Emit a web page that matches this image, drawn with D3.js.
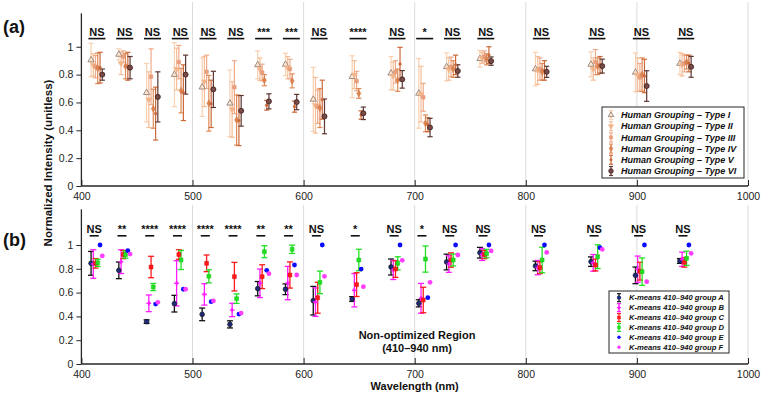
<!DOCTYPE html>
<html><head><meta charset="utf-8">
<script src="https://cdn.jsdelivr.net/npm/d3@7"></script>
<style>
body{margin:0;background:#fff}
svg{display:block}
text{font-family:"Liberation Sans",Arial,Helvetica,sans-serif}
</style>
</head><body>
<svg id="c" width="764" height="396"></svg>
<script>
// ---------- DATA ----------
const wavelengths = [410,435,460,485,510,535,560,585,610,645,680,705,730,760,810,860,900,940];
const xTicks = [400,500,600,700,800,900,1000];
const yTicks = [0,0.2,0.4,0.6,0.8,1];
const sigTop = ["NS","NS","NS","NS","NS","NS","***","***","NS","****","NS","*","NS","NS","NS","NS","NS","NS"];
const sigBottom = ["NS","**","****","****","****","****","**","**","NS","*","NS","*","NS","NS","NS","NS","NS","NS"];

const typeNames = ["Human Grouping \u2013 Type I","Human Grouping \u2013 Type II","Human Grouping \u2013 Type III",
  "Human Grouping \u2013 Type IV","Human Grouping \u2013 Type V","Human Grouping \u2013 Type VI"];
const typeI_mean  = [0.905,0.945,0.67,0.80,0.71,0.594,0.87,0.873,0.622,0.785,0.81,0.665,0.856,0.914,0.84,0.873,0.816,0.88];
const typeI_err   = [0.12,0.04,0.21,0.23,0.21,0.24,0.10,0.08,0.23,0.15,0.12,0.25,0.10,0.06,0.12,0.09,0.14,0.08];
const typeII_mean = [0.87,0.88,0.62,0.84,0.75,0.55,0.84,0.85,0.58,0.80,0.79,0.66,0.84,0.92,0.83,0.84,0.80,0.87];
const typeII_err  = [0.08,0.08,0.20,0.15,0.18,0.20,0.08,0.08,0.20,0.10,0.10,0.20,0.08,0.04,0.10,0.08,0.12,0.08];
const typeIII_mean= [0.857,0.93,0.785,0.89,0.82,0.71,0.815,0.84,0.57,0.754,0.82,0.637,0.856,0.93,0.84,0.89,0.78,0.88];
const typeIII_err = [0.08,0.04,0.20,0.12,0.12,0.19,0.06,0.07,0.12,0.07,0.08,0.10,0.07,0.04,0.08,0.09,0.10,0.06];
const typeIV_mean = [0.845,0.86,0.555,0.685,0.594,0.474,0.76,0.755,0.56,0.665,0.76,0.45,0.84,0.91,0.82,0.86,0.80,0.89];
const typeIV_err  = [0.11,0.09,0.14,0.16,0.20,0.18,0.04,0.05,0.14,0.035,0.08,0.06,0.06,0.04,0.06,0.06,0.12,0.05];
const typeV_mean  = [0.85,0.86,0.52,0.67,0.59,0.47,0.58,0.57,0.62,0.51,0.876,0.44,0.87,0.94,0.83,0.87,0.79,0.88];
const typeV_err   = [0.11,0.10,0.19,0.20,0.17,0.18,0.035,0.04,0.14,0.03,0.12,0.05,0.07,0.06,0.07,0.06,0.12,0.06];
const typeVI_mean = [0.80,0.85,0.64,0.80,0.694,0.54,0.608,0.603,0.50,0.522,0.766,0.42,0.826,0.897,0.82,0.861,0.718,0.856];
const typeVI_err  = [0.04,0.08,0.18,0.14,0.13,0.11,0.054,0.055,0.125,0.045,0.063,0.066,0.045,0.03,0.04,0.05,0.11,0.075];

const groupNames = ["K-means 410\u2013940 group A","K-means 410\u2013940 group B","K-means 410\u2013940 group C",
  "K-means 410\u2013940 group D","K-means 410\u2013940 group E","K-means 410\u2013940 group F"];
const groupA_mean = [0.846,0.787,0.356,0.507,0.417,0.333,0.633,0.628,0.532,0.546,0.815,0.51,0.857,0.935,0.824,0.86,0.745,0.866];
const groupA_err  = [0.10,0.07,0.015,0.07,0.053,0.03,0.06,0.045,0.12,0.02,0.067,0.03,0.066,0.045,0.04,0.04,0.07,0.02];
const groupB_mean = [0.84,0.86,0.51,0.678,0.585,0.454,0.678,0.68,0.52,0.62,0.79,0.552,0.84,0.92,0.81,0.85,0.797,0.88];
const groupB_err  = [0.12,0.10,0.07,0.19,0.09,0.056,0.12,0.14,0.12,0.14,0.08,0.125,0.07,0.05,0.06,0.07,0.11,0.06];
const groupC_mean = [0.846,0.92,0.815,0.92,0.846,0.734,0.734,0.748,0.557,0.667,0.798,0.538,0.874,0.92,0.81,0.832,0.78,0.854];
const groupC_err  = [0.04,0.035,0.09,0.04,0.07,0.12,0.10,0.11,0.13,0.10,0.07,0.107,0.06,0.035,0.05,0.05,0.075,0.04];
const groupD_mean = [0.85,0.92,0.647,0.874,0.737,0.549,0.944,0.964,0.686,0.874,0.846,0.882,0.874,0.928,0.874,0.902,0.776,0.888];
const groupD_err  = [0.03,0.03,0.03,0.08,0.055,0.04,0.05,0.035,0.095,0.09,0.055,0.11,0.05,0.035,0.107,0.10,0.115,0.06];
const groupE_mean = [1.0,0.952,0.504,0.628,0.524,0.42,0.787,0.832,1.0,0.798,1.0,0.557,1.0,1.0,1.0,0.977,1.0,1.0];
const groupF_mean = [0.908,0.924,0.518,0.628,0.53,0.428,0.759,0.748,0.737,0.65,0.871,0.686,0.916,0.95,0.938,0.964,0.692,0.93];

// ---------- SETUP ----------
const svg = d3.select("#c");
const FONT = '"Liberation Sans",Arial,Helvetica,sans-serif';
const axisColor = "#262626";
const x = d3.scaleLinear().domain([400,1000]).range([81.4,748]);
const yTop = d3.scaleLinear().domain([0,1.3]).range([186,5]);
const yBot = d3.scaleLinear().domain([0,1.3]).range([364,209.3]);
const offsets = [-1.3,0.7,2.7,4.7,6.8,8.8];

function panel(y, gridTop, axisTopVal){
  const g = svg.append("g");
  g.selectAll("line.grid").data(xTicks.slice(1)).join("line")
    .attr("x1",d=>x(d)).attr("x2",d=>x(d))
    .attr("y1",gridTop).attr("y2",y(0))
    .attr("stroke","#dcdcdc").attr("stroke-width",1);
  const ya = g.append("g").attr("transform",`translate(${x(400)},0)`)
    .call(d3.axisLeft(y).tickValues(yTicks).tickFormat(d3.format("~g")).tickSizeOuter(0).tickSizeInner(5).tickPadding(3));
  ya.select(".domain").remove();
  ya.selectAll("line").attr("stroke",axisColor).attr("stroke-width",1);
  ya.selectAll("text").attr("font-family",FONT).attr("font-size",10.5).attr("fill","#222");
  g.append("line").attr("x1",x(400)).attr("x2",x(400)).attr("y1",y(0)).attr("y2",y(axisTopVal))
    .attr("stroke",axisColor).attr("stroke-width",1.3);
  const xa = g.append("g").attr("transform",`translate(0,${y(0)})`)
    .call(d3.axisBottom(x).tickValues(xTicks).tickFormat(d3.format("d")).tickSizeOuter(0).tickSizeInner(-6).tickPadding(7));
  xa.select(".domain").remove();
  xa.selectAll("line").attr("stroke",axisColor).attr("stroke-width",1);
  xa.selectAll("text").attr("font-family",FONT).attr("font-size",10.5).attr("fill","#222");
  g.append("line").attr("x1",x(400)).attr("x2",x(1000)).attr("y1",y(0)).attr("y2",y(0))
    .attr("stroke",axisColor).attr("stroke-width",1.3);
  return g;
}

function errSeries(g, y, means, errs, off, color, lw, cap){
  const s = g.append("g");
  means.forEach((m,i)=>{
    const cx = x(wavelengths[i]+off);
    const e = errs[i];
    s.append("line").attr("x1",cx).attr("x2",cx).attr("y1",y(m-e)).attr("y2",y(m+e))
      .attr("stroke",color).attr("stroke-width",lw);
    [m-e,m+e].forEach(v=>s.append("line").attr("x1",cx-cap).attr("x2",cx+cap)
      .attr("y1",y(v)).attr("y2",y(v)).attr("stroke",color).attr("stroke-width",lw));
  });
  return s;
}
function markers(g, y, means, off, sym, size, fill, stroke, sw){
  g.append("g").selectAll("path").data(means).join("path")
    .attr("transform",(d,i)=>`translate(${x(wavelengths[i]+off)},${y(d)})`)
    .attr("d",d3.symbol(sym,size)())
    .attr("fill",fill).attr("stroke",stroke).attr("stroke-width",sw);
}
function sigLabels(g, y, labels, off, textY, lineY, halfLen){
  labels.forEach((t,i)=>{
    const cx = x(wavelengths[i]+off);
    g.append("text").attr("x",cx).attr("y",textY).attr("text-anchor","middle")
      .attr("font-family",FONT).attr("font-weight","bold").attr("font-size",11)
      .attr("fill","#111").text(t);
    g.append("line").attr("x1",cx-halfLen).attr("x2",cx+halfLen).attr("y1",lineY).attr("y2",lineY)
      .attr("stroke","#111").attr("stroke-width",1.6);
  });
}

// ---------- TOP PANEL ----------
const gT = panel(yTop, 2, 1.24);
const topSeries = [
  {m:typeI_mean,e:typeI_err,bar:"#f9d0b0",sym:d3.symbolTriangle,size:17,fill:"#fbe6d4",stroke:"#8c7467",sw:0.8},
  {m:typeII_mean,e:typeII_err,bar:"#f6be98",sym:d3.symbolTriangle,size:15,fill:"#f3b48a",stroke:"#f3b48a",sw:0.5,flip:true},
  {m:typeIII_mean,e:typeIII_err,bar:"#eeab8a",sym:d3.symbolSquare,size:13,fill:"#eaa07c",stroke:"#e39676",sw:0.5},
  {m:typeIV_mean,e:typeIV_err,bar:"#e08a55",sym:d3.symbolDiamond,size:14,fill:"#dc8250",stroke:"#d37848",sw:0.5},
  {m:typeV_mean,e:typeV_err,bar:"#cc6a3a",sym:d3.symbolCircle,size:6,fill:"#c9663a",stroke:"#c9663a",sw:0.5},
  {m:typeVI_mean,e:typeVI_err,bar:"#5e3733",sym:d3.symbolCircle,size:20,fill:"#7a4a44",stroke:"#3a2020",sw:0.8}
];
topSeries.forEach((s,k)=>{
  errSeries(gT, yTop, s.m, s.e, offsets[k], s.bar, 1.2, 2.6);
});
topSeries.forEach((s,k)=>{
  const gg = gT.append("g");
  gg.selectAll("path").data(s.m).join("path")
    .attr("transform",(d,i)=>`translate(${x(wavelengths[i]+offsets[k])},${yTop(d)})${s.flip?" rotate(180)":""}`)
    .attr("d",d3.symbol(s.sym,s.size)())
    .attr("fill",s.fill).attr("stroke",s.stroke).attr("stroke-width",s.sw);
});
sigLabels(gT, yTop, sigTop, 4, 35.7, 38.6, 8.5);

// ---------- BOTTOM PANEL ----------
const gB = panel(yBot, 205, 1.3);
errSeries(gB, yBot, groupA_mean, groupA_err, offsets[0], "#111", 1.3, 3);
errSeries(gB, yBot, groupB_mean, groupB_err, offsets[1], "#ff1aff", 1.3, 3);
errSeries(gB, yBot, groupC_mean, groupC_err, offsets[2], "#ff1a1a", 1.3, 3);
errSeries(gB, yBot, groupD_mean, groupD_err, offsets[3], "#22e022", 1.3, 3);
markers(gB, yBot, groupA_mean, offsets[0], d3.symbolCircle, 18, "#1e2a78", "#111", 0.6);
markers(gB, yBot, groupB_mean, offsets[1], d3.symbolCross, 12, "#ff1aff", "none", 0);
markers(gB, yBot, groupC_mean, offsets[2], d3.symbolSquare, 15, "#ff1a1a", "#dd0000", 0.5);
markers(gB, yBot, groupD_mean, offsets[3], d3.symbolSquare, 15, "#22e022", "#11c011", 0.5);
markers(gB, yBot, groupE_mean, offsets[4], d3.symbolCircle, 18, "#0a0aff", "none", 0);
markers(gB, yBot, groupF_mean, offsets[5], d3.symbolCircle, 18, "#ff3cff", "none", 0);
sigLabels(gB, yBot, sigBottom, 1.5, 232.5, 235.8, 4.5);

svg.append("text").attr("x",417).attr("y",339).attr("text-anchor","middle")
  .attr("font-family",FONT).attr("font-weight","bold").attr("font-size",11).attr("fill","#111")
  .text("Non-optimized Region");
svg.append("text").attr("x",417).attr("y",352).attr("text-anchor","middle")
  .attr("font-family",FONT).attr("font-weight","bold").attr("font-size",11).attr("fill","#111")
  .text("(410\u2013940 nm)");

// ---------- LEGENDS ----------
function legend(x0,y0,w,h,rowY0,dy,iconX,textX,fs,names,drawIcon){
  const g = svg.append("g");
  g.append("rect").attr("x",x0).attr("y",y0).attr("width",w).attr("height",h)
    .attr("fill","#fff").attr("stroke","#262626").attr("stroke-width",1);
  names.forEach((n,i)=>{
    const yy = rowY0 + i*dy;
    drawIcon(g,i,iconX,yy);
    g.append("text").attr("x",textX).attr("y",yy).attr("dy","0.35em")
      .attr("font-family",FONT).attr("font-weight","bold").attr("font-style","italic")
      .attr("font-size",fs).attr("fill","#111").text(n);
  });
}
legend(602,107,142,71,115,11.2,611,621,9,typeNames,(g,i,cx,cy)=>{
  const s = topSeries[i];
  g.append("line").attr("x1",cx).attr("x2",cx).attr("y1",cy-4.5).attr("y2",cy+4.5).attr("stroke",s.bar).attr("stroke-width",1.2);
  [cy-4.5,cy+4.5].forEach(v=>g.append("line").attr("x1",cx-2).attr("x2",cx+2).attr("y1",v).attr("y2",v).attr("stroke",s.bar).attr("stroke-width",1.2));
  g.append("path").attr("transform",`translate(${cx},${cy})${s.flip?" rotate(180)":""}`)
    .attr("d",d3.symbol(s.sym,s.size*0.8)()).attr("fill",s.fill).attr("stroke",s.stroke).attr("stroke-width",s.sw);
});
const botStyles = [
  {bar:"#111",sym:d3.symbolCircle,size:14,fill:"#1e2a78"},
  {bar:"#ff1aff",sym:d3.symbolCross,size:10,fill:"#ff1aff"},
  {bar:"#ff1a1a",sym:d3.symbolSquare,size:12,fill:"#ff1a1a"},
  {bar:"#22e022",sym:d3.symbolSquare,size:12,fill:"#22e022"},
  {bar:null,sym:d3.symbolCircle,size:9,fill:"#0a0aff"},
  {bar:null,sym:d3.symbolCircle,size:9,fill:"#ff3cff"}
];
legend(609,291,120,62,297.7,9.9,619,629,7.6,groupNames,(g,i,cx,cy)=>{
  const s = botStyles[i];
  if(s.bar){
    g.append("line").attr("x1",cx).attr("x2",cx).attr("y1",cy-4).attr("y2",cy+4).attr("stroke",s.bar).attr("stroke-width",1.2);
    [cy-4,cy+4].forEach(v=>g.append("line").attr("x1",cx-2).attr("x2",cx+2).attr("y1",v).attr("y2",v).attr("stroke",s.bar).attr("stroke-width",1.2));
  }
  g.append("path").attr("transform",`translate(${cx},${cy})`).attr("d",d3.symbol(s.sym,s.size)()).attr("fill",s.fill);
});

// ---------- LABELS ----------
svg.append("text").attr("transform","translate(52,163) rotate(-90)").attr("text-anchor","middle")
  .attr("font-family",FONT).attr("font-weight","bold").attr("font-size",11.5).attr("fill","#111")
  .text("Normalized Intensity (unitless)");
svg.append("text").attr("x",414.7).attr("y",390).attr("text-anchor","middle")
  .attr("font-family",FONT).attr("font-weight","bold").attr("font-size",11).attr("fill","#111")
  .text("Wavelength (nm)");
svg.append("text").attr("x",3).attr("y",33).attr("font-family",FONT).attr("font-weight","bold")
  .attr("font-size",18).attr("fill","#111").text("(a)");
svg.append("text").attr("x",3).attr("y",246).attr("font-family",FONT).attr("font-weight","bold")
  .attr("font-size",18).attr("fill","#111").text("(b)");
</script>
</body></html>
